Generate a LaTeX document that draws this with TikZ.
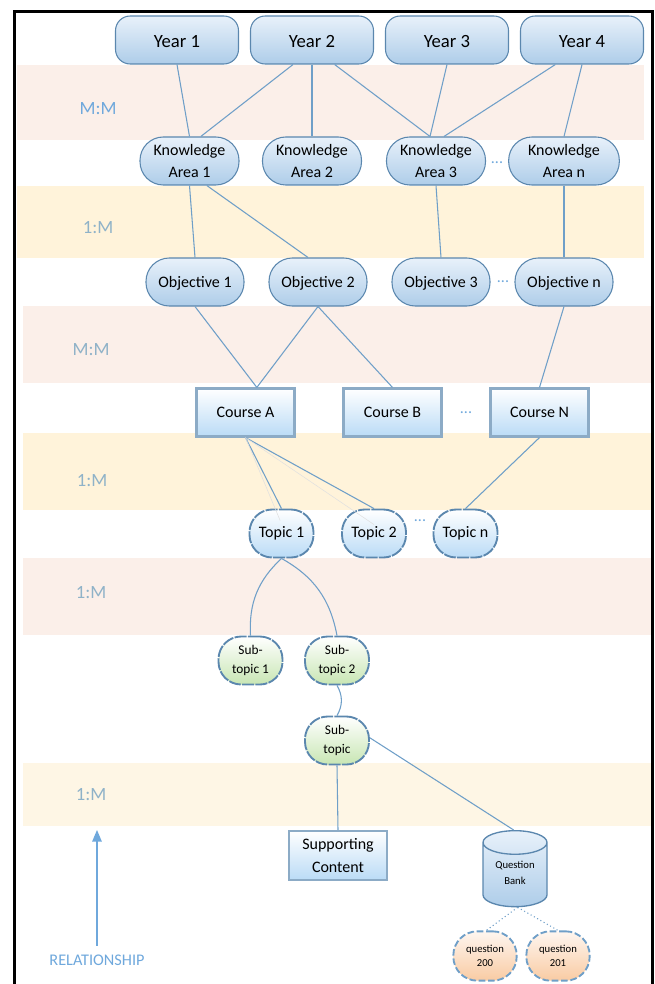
\documentclass[tikz,border=0pt]{standalone}
\usepackage{fontspec}
\setmainfont{Carlito}
\usetikzlibrary{arrows,shapes.geometric}

\definecolor{linkblue}{HTML}{6F9FC8}
\definecolor{edgeblue}{HTML}{5B87AE}
\definecolor{labelblue}{HTML}{6FA8DC}
\definecolor{labelgrey}{HTML}{8FB2C8}
\definecolor{pinkband}{HTML}{FBEFE9}
\definecolor{creamband}{HTML}{FFF3DA}
\definecolor{paleband}{HTML}{FEF6E5}
\definecolor{yeartop}{HTML}{E8F1FA}
\definecolor{yearbottom}{HTML}{AECDE9}
\definecolor{coursebottom}{HTML}{BADBF6}
\definecolor{subbottom}{HTML}{C8E6B3}
\definecolor{questiontop}{HTML}{FEF6F0}
\definecolor{questionbottom}{HTML}{F9CBA3}

\begin{document}
\begin{tikzpicture}[x=0.75pt,y=-0.75pt,>=triangle 45,
    year node/.style={rectangle,draw=edgeblue,line width=0.8pt,rounded corners=11pt,top color=yeartop,bottom color=yearbottom,
      minimum width=92.25pt,minimum height=36pt,inner sep=0pt,text height=11.5pt,text depth=0pt,font=\fontsize{14}{17}\selectfont,node distance=101.25pt},
    area node/.style={rectangle,draw=edgeblue,line width=0.8pt,rounded corners=17.5pt,top color=yeartop,bottom color=yearbottom,
      minimum width=74.25pt,minimum height=36pt,inner sep=0pt,align=center,font=\fontsize{12}{16.5}\selectfont},
    objective node/.style={area node,font=\fontsize{12}{14}\selectfont,minimum width=73.5pt,text height=11pt,node distance=92.25pt},
    course node/.style={rectangle,draw=edgeblue!70,line width=1.6pt,top color=white,bottom color=coursebottom,
      minimum width=73.5pt,minimum height=36pt,inner sep=0pt,align=center,font=\fontsize{12}{17.5}\selectfont,node distance=110.25pt},
    topic node/.style={rectangle,draw=edgeblue,line width=1.4pt,dash pattern=on 9pt off 1pt,rounded corners=17pt,top color=white,bottom color=coursebottom,
      minimum width=48pt,minimum height=36pt,inner sep=0pt,font=\fontsize{12}{14}\selectfont},
    subtopic node/.style={topic node,top color=white,bottom color=subbottom,align=center,font=\fontsize{10}{14}\selectfont},
    question node/.style={rectangle,draw=linkblue,line width=1.4pt,dash pattern=on 5pt off 2pt,rounded corners=18pt,top color=questiontop,bottom color=questionbottom,
      minimum width=47.5pt,minimum height=37pt,inner sep=0pt,align=center,font=\fontsize{8}{11}\selectfont},
    bank node/.style={cylinder,shape border rotate=90,aspect=0.6,draw=edgeblue,line width=1pt,top color=yeartop,bottom color=yearbottom,
      minimum width=48pt,minimum height=57pt,inner sep=0pt,align=center,font=\fontsize{8}{11.6}\selectfont},
    bank label/.style={align=center,inner sep=0pt,font=\fontsize{8}{11.6}\selectfont},
    band label/.style={text=labelgrey,font=\fontsize{14}{17}\selectfont},
    dots label/.style={text=labelblue,font=\fontsize{12}{14}\selectfont},
    link/.style={draw=linkblue,line width=0.8pt},
    faint link/.style={draw=black!12,line width=0.4pt}]
\useasboundingbox (0,0) rectangle (654,984);

% bands
\fill[pinkband] (17,65) rectangle (644,140);
\fill[creamband] (17,186) rectangle (644,258);
\fill[pinkband] (23,306) rectangle (651,383);
\fill[creamband] (23,433) rectangle (651,510);
\fill[pinkband] (23,558) rectangle (651,635);
\fill[paleband] (23,763) rectangle (651,826);

% outer frame
\draw[line width=2.25pt] (14.5,984) -- (14.5,11.5) -- (652.5,11.5) -- (652.5,984);

\node[band label,text=labelblue] (mm1) at (98,109) {M:M};
\node[band label] (om1) at (98,228) {1:M};
\node[band label] (mm2) at (91,350) {M:M};
\node[band label] (om2) at (92,481) {1:M};
\node[band label] (om3) at (91,593) {1:M};
\node[band label] (om4) at (91,795) {1:M};

\node[year node] (y1) at (177,40) {Year 1};
\node[year node] (y2) [right of=y1] {Year 2};
\node[year node] (y3) [right of=y2] {Year 3};
\node[year node] (y4) [right of=y3] {Year 4};

\node[area node] (k1) at (189.5,161) {Knowledge\\Area 1};
\node[area node] (k2) at (312,161) {Knowledge\\Area 2};
\node[area node] (k3) at (436,161) {Knowledge\\Area 3};
\node[area node,minimum width=83pt] (k4) at (564,161) {Knowledge\\Area n};

\node[objective node] (o1) at (195,282) {Objective 1};
\node[objective node] (o2) [right of=o1] {Objective 2};
\node[objective node] (o3) [right of=o2] {Objective 3};
\node[objective node] (o4) [right of=o3] {Objective n};

\node[course node] (c1) at (245.5,412.5) {Course A};
\node[course node] (c2) [right of=c1] {Course B};
\node[course node] (c3) [right of=c2] {Course N};

\node[topic node] (t1) at (281.5,533.5) {Topic 1};
\node[topic node] (t2) at (374,533.5) {Topic 2};
\node[topic node] (t3) at (465.5,533.5) {Topic n};

\node[subtopic node] (s1) at (250.5,660.5) {Sub-\\topic 1};
\node[subtopic node] (s2) at (337,660.5) {Sub-\\topic 2};
\node[subtopic node] (s3) at (337,740.5) {Sub-\\topic};

\node[course node,minimum height=37pt] (sc) at (338,855.5) {Supporting\\Content};
\node[bank node,anchor=north] (qb) at (515,830) {\phantom{Question}\\\phantom{Bank}};
\node[bank label] (qt) at (515,873) {Question\\Bank};
\node[question node] (q1) at (485,956) {question\\200};
\node[question node] (q2) at (558,956) {question\\201};

\node[dots label] (d1) at (497,163) {...};
\node[dots label] (d2) at (503,282) {...};
\node[dots label] (d3) at (466,413) {...};
\node[dots label] (d4) at (420,521) {...};

\node[text=labelblue,font=\fontsize{12.2}{14}\selectfont] (rel) at (97,960) {RELATIONSHIP};
\coordinate (relend) at (97,830);
\draw[->,draw=labelblue,fill=labelblue,line width=1pt] ([yshift=3pt]rel.north) -- (relend);

\path[link]
  (y1.south) edge (k1.north)
  ([xshift=-14.25pt]y2.south) edge ([xshift=8.5pt]k1.north)
  (y2.south) edge (k2.north)
  ([xshift=17pt]y2.south) edge ([xshift=-4.5pt]k3.north)
  (y3.south) edge ([xshift=-4.5pt]k3.north)
  ([xshift=-20pt]y4.south) edge ([xshift=6pt]k3.north)
  (y4.south) edge (k4.north);

\path[link]
  (k1.south) edge (o1.north)
  ([xshift=13pt]k1.south) edge ([xshift=-7.5pt]o2.north)
  (k3.south) edge (o3.north)
  (k4.south) edge (o4.north);

\path[link]
  (o1.south) edge ([xshift=8.5pt]c1.north)
  (o2.south) edge ([xshift=8.5pt]c1.north)
  (o2.south) edge (c2.north)
  (o4.south) edge (c3.north);

\path[link]
  (c1.south) edge (t1.north)
      edge (t2.north)
  (c3.south) edge (t3.north);

\path[faint link]
  (c1.south) edge ([xshift=-1pt,yshift=-9pt]t1.north)
      edge ([yshift=-12pt]t2.north);

\path[link]
  (t1.south) edge [bend right=25] (s1.north)
      edge [bend left=25] (s2.north)
  (s2.south) edge [bend left=30] (s3.north)
  (s3.south) edge (sc.north)
  ([yshift=2pt]s3.east) edge ([xshift=-1pt]qb.north);

\path[link,dotted]
  ([xshift=2pt]qb.south) edge ([xshift=1pt]q1.north)
      edge (q2.north);

\end{tikzpicture}
\end{document}
